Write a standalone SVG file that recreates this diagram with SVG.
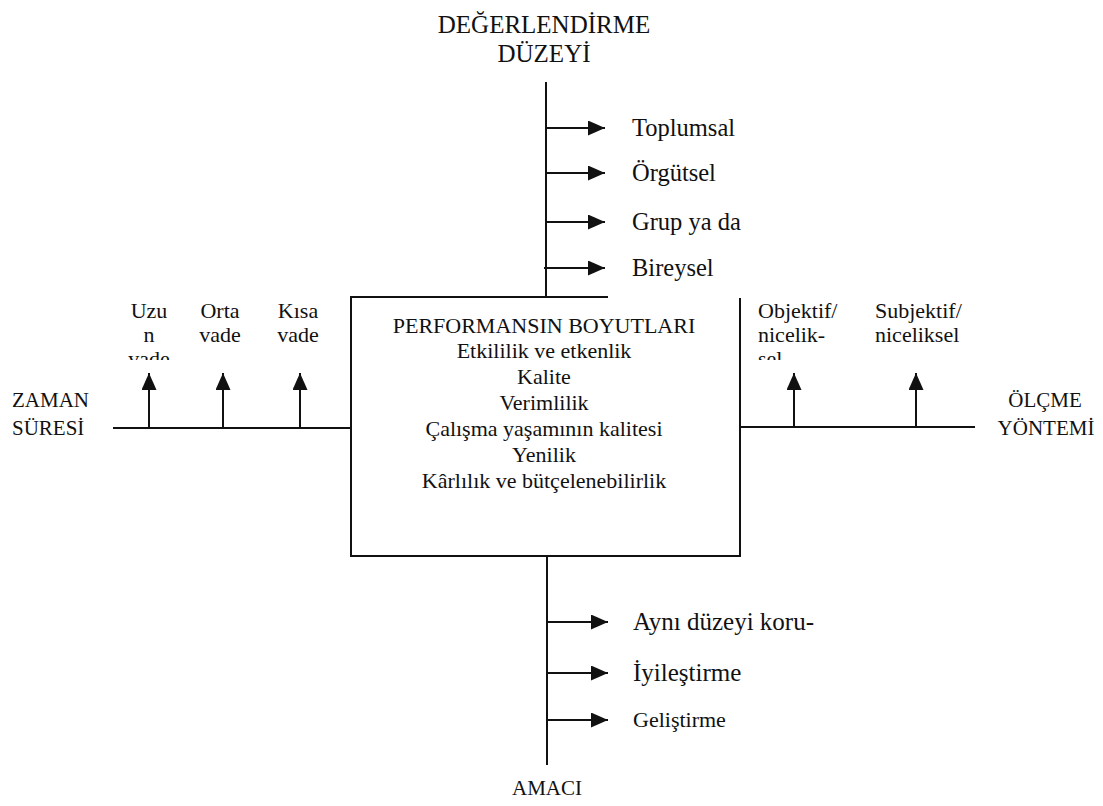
<svg xmlns="http://www.w3.org/2000/svg" width="1103" height="806" viewBox="0 0 1103 806">
<style>
text{font-family:"Liberation Serif","Times New Roman","DejaVu Serif",serif;fill:#111}
.t{font-size:25px}
.i{font-size:24.5px}
.b{font-size:22px}
.x{font-size:21px}
.s{font-size:22px}
.c{text-anchor:middle}
.ln{stroke:#111;stroke-width:2;fill:none}
</style>
<defs>
<marker id="a" viewBox="0 0 17 15" refX="17" refY="7.5" markerWidth="17" markerHeight="15" markerUnits="userSpaceOnUse" orient="auto">
<path d="M0,0 L17,7.5 L0,15 Z" fill="#111"/>
</marker>
<clipPath id="cl"><rect x="100" y="290" width="100" height="70"/></clipPath>
<clipPath id="cr"><rect x="745" y="290" width="100" height="70"/></clipPath>
</defs>
<g id="connectors" class="ln">
<line x1="546" y1="82" x2="546" y2="297"/>
<line x1="546" y1="128" x2="605" y2="128" marker-end="url(#a)"/>
<line x1="546" y1="173" x2="605" y2="173" marker-end="url(#a)"/>
<line x1="546" y1="222" x2="605" y2="222" marker-end="url(#a)"/>
<line x1="544" y1="268" x2="605" y2="268" marker-end="url(#a)"/>
<line x1="547" y1="556" x2="547" y2="765"/>
<line x1="547" y1="622" x2="608" y2="622" marker-end="url(#a)"/>
<line x1="547" y1="673" x2="608" y2="673" marker-end="url(#a)"/>
<line x1="547" y1="720" x2="608" y2="720" marker-end="url(#a)"/>
<line x1="113" y1="428" x2="351" y2="428"/>
<line x1="149" y1="428" x2="149" y2="373" marker-end="url(#a)"/>
<line x1="223" y1="428" x2="223" y2="373" marker-end="url(#a)"/>
<line x1="300" y1="428" x2="300" y2="373" marker-end="url(#a)"/>
<line x1="740" y1="427" x2="975" y2="427"/>
<line x1="794" y1="427" x2="794" y2="373" marker-end="url(#a)"/>
<line x1="916" y1="427" x2="916" y2="373" marker-end="url(#a)"/>
</g>
<g id="box">
<path class="ln" d="M608,297 L351,297 L351,556 L740,556 L740,298"/>
<text class="b c" x="544" y="333">PERFORMANSIN BOYUTLARI</text>
<text class="b c" x="544" y="358">Etkililik ve etkenlik</text>
<text class="b c" x="544" y="384">Kalite</text>
<text class="b c" x="544" y="410">Verimlilik</text>
<text class="b c" x="544" y="436">Çalışma yaşamının kalitesi</text>
<text class="b c" x="544" y="462">Yenilik</text>
<text class="b c" x="544" y="488">Kârlılık ve bütçelenebilirlik</text>
</g>
<g id="top-title">
<text class="t c" x="544" y="33">DEĞERLENDİRME</text>
<text class="t c" x="544" y="62">DÜZEYİ</text>
</g>
<g id="top-items">
<text class="i" x="632" y="136">Toplumsal</text>
<text class="i" x="632" y="181">Örgütsel</text>
<text class="i" x="632" y="230">Grup ya da</text>
<text class="i" x="632" y="276">Bireysel</text>
</g>
<g id="bottom-items">
<text class="t" x="633" y="630">Aynı düzeyi koru-</text>
<text class="t" x="633" y="681">İyileştirme</text>
<text class="b" x="633" y="727">Geliştirme</text>
<text class="x c" x="547" y="795">AMACI</text>
</g>
<g id="left">
<text class="x" x="12" y="407">ZAMAN</text>
<text class="x" x="12" y="435">SÜRESİ</text>
<g clip-path="url(#cl)">
<text class="s c" x="149" y="318">Uzu</text>
<text class="s c" x="149" y="342">n</text>
<text class="s c" x="149" y="366">vade</text>
</g>
<text class="s c" x="220" y="318">Orta</text>
<text class="s c" x="220" y="342">vade</text>
<text class="s c" x="298" y="318">Kısa</text>
<text class="s c" x="298" y="342">vade</text>
</g>
<g id="right">
<g clip-path="url(#cr)">
<text class="s" x="758" y="318">Objektif/</text>
<text class="s" x="758" y="342">nicelik-</text>
<text class="s" x="758" y="366">sel</text>
</g>
<text class="s" x="875" y="318">Subjektif/</text>
<text class="s" x="875" y="342">niceliksel</text>
<text class="x c" x="1045" y="407">ÖLÇME</text>
<text class="x c" x="1046" y="435">YÖNTEMİ</text>
</g>
</svg>
